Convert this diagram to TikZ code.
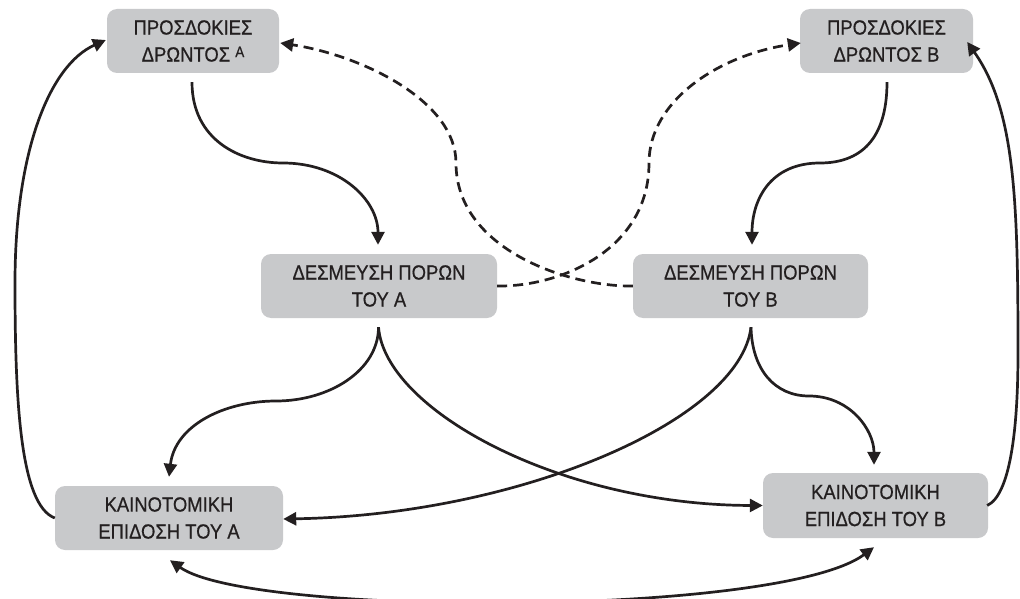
\documentclass[tikz,border=0pt]{standalone}
\usepackage{fontspec}
\newfontfamily\nodefont[FakeStretch=0.9,FakeBold=0.6]{Liberation Sans}
\usetikzlibrary{arrows.meta}
\definecolor{boxgray}{RGB}{200,201,203}
\definecolor{inkdark}{RGB}{35,31,32}
\tikzset{
  box/.style={draw=none, fill=boxgray, rounded corners=10pt, text=inkdark,
    font=\nodefont\fontsize{20.5}{27}\selectfont, align=center, inner sep=0pt,
    minimum height=64pt},
  conn/.style={draw=inkdark, line width=2.7pt,
    -{Triangle[length=13pt,width=13pt]}},
  dconn/.style={conn, dash pattern=on 10pt off 6pt},
  bconn/.style={draw=inkdark, line width=2.7pt,
    {Triangle[length=13pt,width=13pt]}-{Triangle[length=13pt,width=13pt]}}
}
\begin{document}
\begin{tikzpicture}[x=1pt,y=-1pt]
\useasboundingbox (0,0) rectangle (1020,599);
\node[box, minimum width=172pt] (PA) at (193,41) {ΠΡΟΣΔΟΚΙΕΣ\\ΔΡΩΝΤΟΣ \raisebox{4.5pt}{\fontsize{15}{15}\selectfont A}};
\node[box, minimum width=173pt] (PB) at (886.5,41) {ΠΡΟΣΔΟΚΙΕΣ\\ΔΡΩΝΤΟΣ B};
\node[box, minimum width=236pt] (DA) at (379,286) {ΔΕΣΜΕΥΣΗ ΠΟΡΩΝ\\ΤΟΥ Α};
\node[box, minimum width=235pt] (DB) at (750.5,286) {ΔΕΣΜΕΥΣΗ ΠΟΡΩΝ\\ΤΟΥ Β};
\node[box, minimum width=228pt] (KA) at (169,518) {ΚΑΙΝΟΤΟΜΙΚΗ\\ΕΠΙΔΟΣΗ ΤΟΥ Α};
\node[box, minimum width=225pt, minimum height=65pt] (KB) at (875.5,505.5) {ΚΑΙΝΟΤΟΜΙΚΗ\\ΕΠΙΔΟΣΗ ΤΟΥ Β};

% expectations -> commitment
\draw[conn] ([xshift=-1pt,yshift=-9pt]PA.south) .. controls (192,140) and (240,163) .. (283,163)
  .. controls (340,163) and (378,200) .. ([yshift=9pt,xshift=-1pt]DA.north);
\draw[conn] ([xshift=0.5pt,yshift=-9pt]PB.south) .. controls (887,140) and (860,163) .. (820,163)
  .. controls (770,163) and (752,200) .. ([yshift=9pt,xshift=1.5pt]DB.north);

% dashed cross links
\draw[dconn] (DB.west) .. controls (570,287) and (456,250) .. (456,163)
  .. controls (456,100) and (360,55) .. ([xshift=1pt,yshift=-2pt]PA.east);
\draw[dconn] (DA.east) .. controls (560,287) and (649,250) .. (649,163)
  .. controls (649,100) and (720,55) .. ([xshift=1pt,yshift=-2pt]PB.west);

% commitment -> performance
\draw[conn] ([xshift=-0.5pt,yshift=-9pt]DA.south) .. controls (378.5,370) and (330,401) .. (276,401)
  .. controls (225,401) and (175,425) .. ([yshift=9pt]KA.north);
\draw[conn] ([xshift=-0.5pt,yshift=-9pt]DA.south) .. controls (385,410) and (560,505) .. ([xshift=0pt]KB.west);
\draw[conn] ([xshift=0.5pt,yshift=-9pt]DB.south) .. controls (752,370) and (775,396) .. (809,396)
  .. controls (850,396) and (874,430) .. ([xshift=-1.5pt,yshift=8pt]KB.north);
\draw[conn] ([xshift=0.5pt,yshift=-9pt]DB.south) .. controls (740,420) and (520,515) .. ([yshift=-1pt]KA.east);

% feedback loops
\draw[conn] (KA.west) .. controls (20,505) and (15,400) .. (15,283)
  .. controls (15,150) and (50,65) .. ([xshift=-1pt,yshift=1pt]PA.west);
\draw[conn] ([xshift=-1pt]KB.east) .. controls (1010,495) and (1018,430) .. (1018,353)
  .. controls (1018,200) and (1015,110) .. ([xshift=-6pt,yshift=-1pt]PB.east);

% mutual performance
\draw[bconn] ([xshift=1pt,yshift=-10pt]KA.south) .. controls (250,617) and (780,617) .. ([xshift=-1.5pt,yshift=-9pt]KB.south);
\end{tikzpicture}
\end{document}
